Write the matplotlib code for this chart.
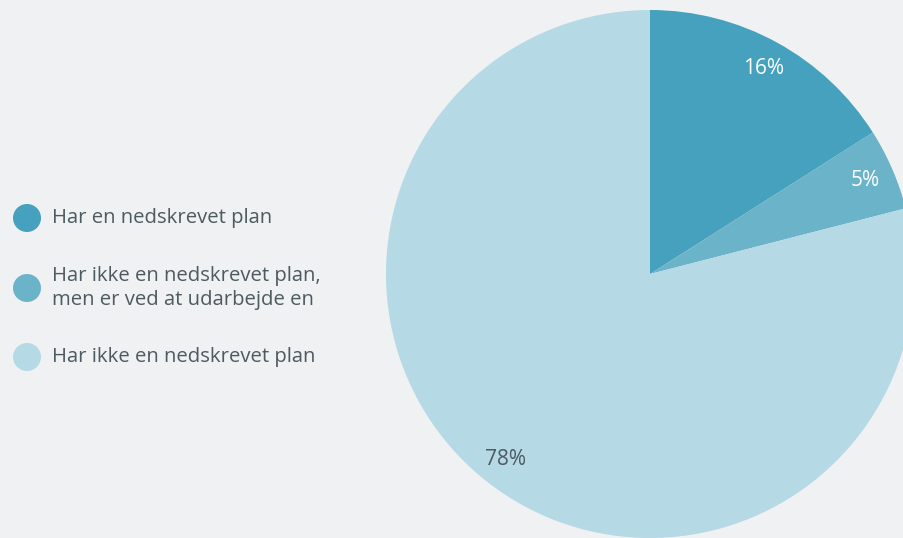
import matplotlib.pyplot as plt
import numpy as np

labels = ["Har en nedskrevet plan",
          "Har ikke en nedskrevet plan,\nmen er ved at udarbejde en",
          "Har ikke en nedskrevet plan"]
values = [16, 5, 78]
colors = ["#45a1bd", "#6ab3c8", "#b5d9e5"]
pct_colors = ["white", "white", "#4d5a60"]

bg = "#f0f1f3"
plt.rcParams['font.family'] = ['Open Sans', 'DejaVu Sans']

fig = plt.figure(figsize=(9.04, 5.38), dpi=100, facecolor=bg)

# pie axes: centre at (650, 274) px, radius 264 px
ax = fig.add_axes([386 / 904, 0, 528 / 904, 528 / 538])
ax.set_facecolor(bg)
# shares as percent of 100; last slice takes the rounding remainder
fracs = [v / 100 for v in values[:-1]]
fracs.append(1 - sum(fracs))
wedges, _ = ax.pie(fracs, colors=colors, startangle=90, counterclock=False,
                   radius=1, normalize=False, wedgeprops=dict(linewidth=0))
for w, v, c in zip(wedges, values, pct_colors):
    ang = np.deg2rad((w.theta1 + w.theta2) / 2)
    ax.text(0.89 * np.cos(ang), 0.89 * np.sin(ang), f"{v}%", color=c,
            fontsize=15, ha='center', va='center')
ax.set_xlim(-1, 1)
ax.set_ylim(-1, 1)
ax.set_aspect('equal')
ax.axis('off')

# legend drawn by hand
lax = fig.add_axes([0, 0, 1, 1])
lax.set_xlim(0, 904)
lax.set_ylim(538, 0)
lax.axis('off')
ys = [218, 288, 357]
for y, lab, c in zip(ys, labels, colors):
    lax.add_patch(plt.Circle((27, y), 14, color=c, lw=0))
    lax.text(52, y, lab, fontsize=14.6, color="#4d5a60", va='center', ha='left',
             linespacing=1.25)

fig.savefig("out.png", dpi=100, facecolor=bg)
